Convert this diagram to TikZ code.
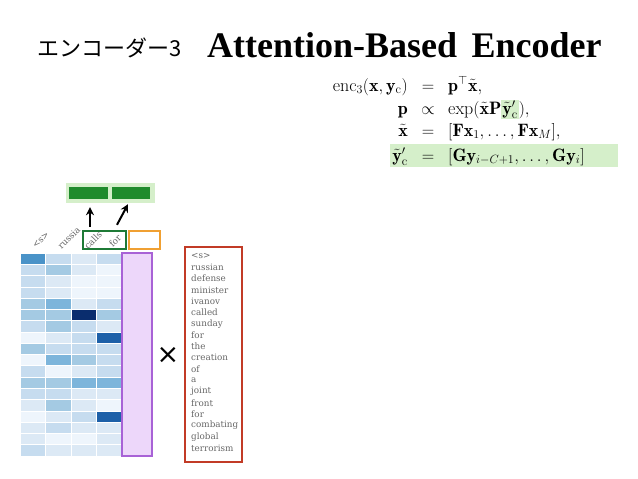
\documentclass[tikz,border=0pt]{standalone}
\usepackage{fontspec}
\usepackage{amsmath}
\usepackage{tikz}
\usetikzlibrary{arrows.meta,positioning}
\newfontfamily\jpfont{Noto Sans CJK JP}
\newfontfamily\headfont{Liberation Serif}
\newfontfamily\wordfont{DejaVu Serif}
\newfontfamily\symfont{DejaVu Sans}
\definecolor{b0}{HTML}{EEF5FC}
\definecolor{b1}{HTML}{DCE9F5}
\definecolor{b2}{HTML}{C6DCEF}
\definecolor{b3}{HTML}{A4CAE3}
\definecolor{b4}{HTML}{7DB5DB}
\definecolor{b5}{HTML}{4A93C8}
\definecolor{b6}{HTML}{1D60A8}
\definecolor{b7}{HTML}{0A2D6E}
\definecolor{hlgreen}{HTML}{D5EFCA}
\definecolor{bardark}{HTML}{1F8B2C}
\definecolor{boxgreen}{HTML}{1E7A36}
\definecolor{boxorange}{HTML}{F0A032}
\definecolor{boxpurple}{HTML}{A862D6}
\definecolor{fillpurple}{HTML}{EDD7FA}
\definecolor{boxred}{HTML}{C23B26}
\definecolor{wordgrey}{HTML}{666666}

\begin{document}
\begin{tikzpicture}[x=1pt,y=-1pt,
    cell/.style={rectangle,inner sep=0pt,minimum width=25.5pt,minimum height=11.3pt,draw=white,line width=0.6pt},
    word/.style={anchor=west,inner sep=0pt,text=wordgrey,font=\wordfont\fontsize{8.8}{9}\selectfont},
    colword/.style={word,anchor=center,rotate=45},
    frame/.style={rectangle,inner sep=0pt,line width=2.4pt},
    bar/.style={rectangle,inner sep=0pt,fill=bardark,minimum width=39pt,minimum height=12pt},
    up/.style={-{Stealth[length=8pt,width=8pt]},line width=2pt},
    eq/.style={inner sep=0pt,font=\fontsize{18}{20}\selectfont}]
  \useasboundingbox (0,0) rectangle (638,479);
  \setlength{\fboxsep}{1pt}

  \node[font=\jpfont\fontsize{22}{24}\selectfont,anchor=west,inner sep=0pt] (jp) at (37,48) {エンコーダー3};
  \node[font=\headfont\bfseries\fontsize{36}{40}\selectfont,anchor=base west,inner sep=0pt] (title) at (207,57) {Attention-Based\hspace{0.4em}Encoder};

  \fill[hlgreen] (390,144) rectangle (618,167);
  \node[eq,anchor=base east] (l1) at (408,91) {$\mathrm{enc}_3(\mathbf{x},\mathbf{y}_{\mathrm{c}})$};
  \node[eq,anchor=base] (r1) at (428,91) {$=$};
  \node[eq,anchor=base west] (e1) at (448,91) {$\mathbf{p}^{\top}\tilde{\mathbf{x}},$};
  \node[eq,anchor=base east] (l2) at (408,114) {$\mathbf{p}$};
  \node[eq,anchor=base] (r2) at (428,114) {$\propto$};
  \node[eq,anchor=base west] (e2) at (448,114) {$\exp(\tilde{\mathbf{x}}\mathbf{P}\colorbox{hlgreen}{$\tilde{\mathbf{y}}'_{\mathrm{c}}$}),$};
  \node[eq,anchor=base east] (l3) at (408,136) {$\tilde{\mathbf{x}}$};
  \node[eq,anchor=base] (r3) at (428,136) {$=$};
  \node[eq,anchor=base west] (e3) at (448,136) {$[\mathbf{F}\mathbf{x}_1,\ldots,\mathbf{F}\mathbf{x}_M],$};
  \node[eq,anchor=base east] (l4) at (408,161) {$\tilde{\mathbf{y}}'_{\mathrm{c}}$};
  \node[eq,anchor=base] (r4) at (428,161) {$=$};
  \node[eq,anchor=base west] (e4) at (448,161) {$[\mathbf{G}\mathbf{y}_{i-C+1},\ldots,\mathbf{G}\mathbf{y}_i]$};

  \foreach \row [count=\r] in {{5,2,1,2},{2,3,1,0},{2,1,0,0},{2,1,0,0},{3,4,1,2},{3,3,7,3},
      {2,3,2,1},{0,1,2,6},{3,2,2,2},{0,4,3,2},{2,0,1,2},{3,3,4,4},{2,2,1,1},{1,3,1,0},
      {0,1,2,6},{1,2,1,1},{1,0,0,1},{2,1,1,1}}
    \foreach \v [count=\c] in \row
      \node[cell,fill=b\v] (c-\r-\c) at ({20+(\c-0.5)*25.5},{253+(\r-0.5)*11.28}) {};

  \node[colword] (s0) at (41,240) {<s>};
  \node[colword] (s1) at (69,238) {russia};
  \node[colword] (s2) at (93,240) {calls};
  \node[colword] (s3) at (115,241) {for};

  \node[frame,draw=boxgreen,minimum width=43pt,minimum height=18pt] (win) at (104.5,240) {};
  \node[frame,draw=boxorange,minimum width=31pt,minimum height=18pt] (next) at (144.5,240) {};
  \node[frame,draw=boxpurple,fill=fillpurple,minimum width=30pt,minimum height=203pt] (att) at (137,354.5) {};

  \node[rectangle,inner sep=0pt,fill=hlgreen,minimum width=89pt,minimum height=20pt] (emb) at (110.5,193) {};
  \node[bar] (bar1) at (88.5,193) {};
  \node[bar,minimum width=38pt] (bar2) at (131,193) {};
  \draw[up] ([xshift=-14.5pt,yshift=3pt]win.north) -- ([xshift=1.5pt,yshift=-8pt]bar1.south);
  \draw[up] ([xshift=12.5pt,yshift=5pt]win.north) -- ([xshift=-3pt,yshift=-5pt]bar2.south);

  \node[font=\symfont\fontsize{27}{28}\selectfont,inner sep=0pt] (times) at (168,355.5) {×};

  \node[frame,draw=boxred,minimum width=57pt,minimum height=215pt] (ctx) at (213.5,354.5) {};
  \foreach \w [count=\i] in {<s>,russian,defense,minister,ivanov,called,sunday,for,the,
      creation,of,a,joint,front,for,combating,global,terrorism}
    \node[word] (w\i) at (191,{256+(\i-1)*11.3}) {\w};
\end{tikzpicture}
\end{document}
